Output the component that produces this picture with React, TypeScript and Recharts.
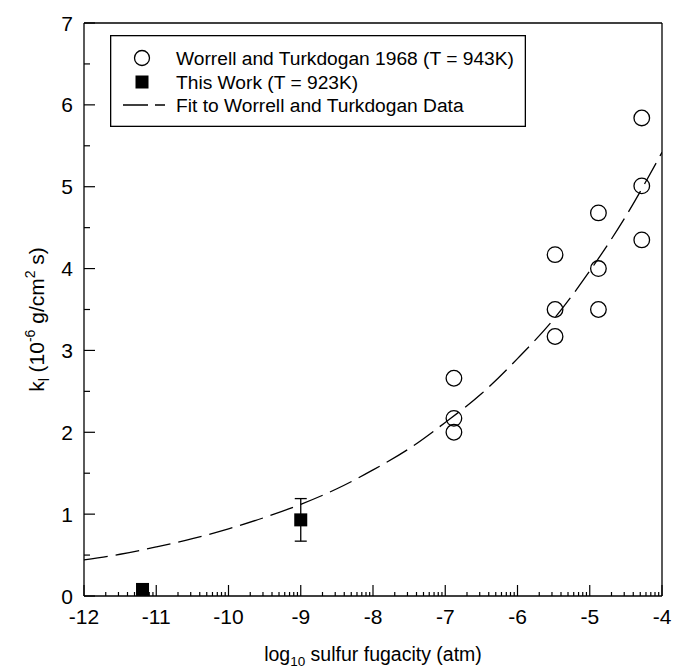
import React from 'react';
import {
  ComposedChart,
  XAxis,
  YAxis,
  Scatter,
  Line,
  ErrorBar,
  ReferenceLine,
  Legend,
} from 'recharts';

// Worrell and Turkdogan 1968, T = 943K
const worrellLogFs = [-6.88, -6.88, -6.88, -5.48, -5.48, -5.48, -4.88, -4.88, -4.88, -4.28, -4.28, -4.28];
const worrellK = [2.66, 2.17, 2.0, 4.17, 3.5, 3.17, 4.68, 4.0, 3.5, 5.84, 5.01, 4.35];

// This work, T = 923K (with vertical error bars)
const thisWorkLogFs = [-11.19, -9.0];
const thisWorkK = [0.08, 0.93];
const thisWorkErr = [0, 0.26];

// Fit to Worrell and Turkdogan data
const fitLogFs = [-12, -11.5, -11, -10.5, -10, -9.5, -9, -8.5, -8, -7.5, -7, -6.5, -6, -5.5, -5, -4.5, -4];
const fitK = [0.44, 0.51, 0.6, 0.7, 0.82, 0.96, 1.12, 1.31, 1.54, 1.8, 2.12, 2.47, 2.9, 3.38, 3.97, 4.64, 5.42];

// Axis ticks
const xMajorTicks = [-12, -11, -10, -9, -8, -7, -6, -5, -4];
const xMinorSteps = [2, 3, 4, 5, 6, 7, 8, 9];
const yTicks = [0, 0.5, 1, 1.5, 2, 2.5, 3, 3.5, 4, 4.5, 5, 5.5, 6, 6.5, 7];

const legendLabels = [
  'Worrell and Turkdogan 1968 (T = 943K)',
  'This Work (T = 923K)',
  'Fit to Worrell and Turkdogan Data',
];

const FONT = '"Liberation Sans", Arial, Helvetica, sans-serif';

const worrellData = worrellLogFs.map((x, i) => ({ x, k: worrellK[i] }));
const thisWorkData = thisWorkLogFs.map((x, i) => ({ x, k: thisWorkK[i], err: thisWorkErr[i] }));
const fitData = fitLogFs.map((x, i) => ({ x, k: fitK[i] }));

const xTicks: number[] = [];
xMajorTicks.forEach((t, i) => {
  xTicks.push(t);
  if (i < xMajorTicks.length - 1) {
    xMinorSteps.forEach((s) => xTicks.push(+(t + Math.log10(s)).toFixed(4)));
  }
});

const isMajor = (v: number) => Math.abs(v - Math.round(v)) < 1e-6;

const BottomTick = (props: any) => {
  const { x, y, payload } = props;
  const v = payload.value;
  const major = isMajor(v);
  return (
    <g>
      <line x1={x} x2={x} y1={y} y2={y - (major ? 11 : 4)} stroke="#000" strokeWidth={1.2} />
      {major && (
        <text x={x} y={y + 28} textAnchor="middle" fontSize={21} fontFamily={FONT} fill="#000">
          {v}
        </text>
      )}
    </g>
  );
};

const LeftTick = (props: any) => {
  const { x, y, payload } = props;
  const v = payload.value;
  const major = isMajor(v);
  return (
    <g>
      <line x1={x} x2={x + (major ? 11 : 6)} y1={y} y2={y} stroke="#000" strokeWidth={1.2} />
      {major && (
        <text x={x - 11} y={y + 7.5} textAnchor="end" fontSize={21} fontFamily={FONT} fill="#000">
          {v}
        </text>
      )}
    </g>
  );
};

const RightTick = (props: any) => {
  const { x, y, payload } = props;
  const major = isMajor(payload.value);
  return <line x1={x} x2={x - (major ? 11 : 6)} y1={y} y2={y} stroke="#000" strokeWidth={1.2} />;
};

const Circle = (p: any) => (
  <circle cx={p.cx} cy={p.cy} r={7.8} fill="none" stroke="#000" strokeWidth={1.3} />
);

const Square = (p: any) => <rect x={p.cx - 6.5} y={p.cy - 6.5} width={13} height={13} fill="#000" />;

const XTitle = (props: any) => {
  const { viewBox } = props;
  const cx = viewBox.x + viewBox.width / 2;
  const y = viewBox.y + 65;
  return (
    <text x={cx} y={y} textAnchor="middle" fontSize={19.5} fontFamily={FONT} fill="#000">
      log
      <tspan fontSize={13.5} dy={5}>10</tspan>
      <tspan dy={-5}> sulfur fugacity (atm)</tspan>
    </text>
  );
};

const YTitle = (props: any) => {
  const { viewBox } = props;
  const px = viewBox.x + 44;
  const py = viewBox.y + viewBox.height / 2 + 10;
  return (
    <text
      x={px}
      y={py}
      transform={`rotate(-90, ${px}, ${py})`}
      textAnchor="middle"
      fontSize={21}
      fontFamily={FONT}
      fill="#000"
    >
      k
      <tspan fontSize={14} dy={5}>l</tspan>
      <tspan dy={-5}> (10</tspan>
      <tspan fontSize={14} dy={-9}>-6</tspan>
      <tspan dy={9}> g/cm</tspan>
      <tspan fontSize={14} dy={-9}>2</tspan>
      <tspan dy={9}> s)</tspan>
    </text>
  );
};

const LegendBox = () => {
  const rows = [23, 47, 70];
  return (
    <svg width={416} height={92} style={{ display: 'block' }}>
      <rect x={0.65} y={0.65} width={414.7} height={90.7} fill="#fff" stroke="#000" strokeWidth={1.3} />
      <circle cx={32} cy={rows[0]} r={7.5} fill="none" stroke="#000" strokeWidth={1.3} />
      <rect x={25.5} y={rows[1] - 6.5} width={13} height={13} fill="#000" />
      <line x1={13} x2={55} y1={rows[2]} y2={rows[2]} stroke="#000" strokeWidth={1.3} strokeDasharray="25 7" />
      {legendLabels.map((label, i) => (
        <text key={label} x={66} y={rows[i] + 7} fontSize={19.2} fontFamily={FONT} fill="#000">
          {label}
        </text>
      ))}
    </svg>
  );
};

export default function App() {
  return (
    <div style={{ position: 'absolute', left: 0, top: 0, width: 673, height: 672, background: '#fff' }}>
      <ComposedChart
        width={673}
        height={672}
        margin={{ top: 23, right: 0, bottom: 0, left: 0 }}
        style={{ fontFamily: FONT }}
      >
        <XAxis
          dataKey="x"
          type="number"
          domain={[-12, -4]}
          ticks={xTicks}
          interval={0}
          allowDataOverflow
          height={76}
          tickSize={0}
          tickMargin={0}
          tickLine={false}
          axisLine={{ stroke: '#000', strokeWidth: 1.3 }}
          tick={<BottomTick />}
          label={<XTitle />}
        />
        <YAxis
          yAxisId="left"
          dataKey="k"
          type="number"
          domain={[0, 7]}
          ticks={yTicks}
          interval={0}
          allowDataOverflow
          width={84}
          tickSize={0}
          tickMargin={0}
          tickLine={false}
          axisLine={{ stroke: '#000', strokeWidth: 1.3 }}
          tick={<LeftTick />}
          label={<YTitle />}
        />
        <YAxis
          yAxisId="right"
          orientation="right"
          type="number"
          domain={[0, 7]}
          ticks={yTicks}
          interval={0}
          width={11}
          tickSize={0}
          tickMargin={0}
          tickLine={false}
          axisLine={{ stroke: '#000', strokeWidth: 1.3 }}
          tick={<RightTick />}
        />
        <ReferenceLine yAxisId="left" y={7} stroke="#000" strokeWidth={1.3} />
        <Line
          yAxisId="left"
          data={fitData}
          dataKey="k"
          type="monotone"
          stroke="#000"
          strokeWidth={1.3}
          strokeDasharray="24 8"
          dot={false}
          activeDot={false}
          isAnimationActive={false}
        />
        <Scatter
          yAxisId="left"
          data={worrellData}
          dataKey="k"
          shape={<Circle />}
          isAnimationActive={false}
        />
        <Scatter
          yAxisId="left"
          data={thisWorkData}
          dataKey="k"
          shape={<Square />}
          isAnimationActive={false}
        >
          <ErrorBar dataKey="err" direction="y" width={6} stroke="#000" strokeWidth={1.3} />
        </Scatter>
        <Legend
          layout="horizontal"
          verticalAlign="middle"
          align="center"
          content={<LegendBox />}
          wrapperStyle={{ position: 'absolute', left: 110, top: 35, width: 416, height: 92 }}
        />
      </ComposedChart>
    </div>
  );
}
